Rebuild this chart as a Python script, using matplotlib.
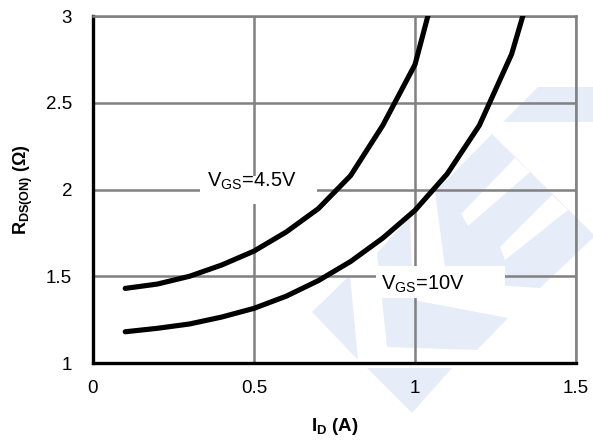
import matplotlib
matplotlib.use("Agg")
import matplotlib.pyplot as plt
from matplotlib.patches import Polygon, Rectangle

plt.rcParams["font.family"] = ["Liberation Sans", "DejaVu Sans"]
plt.rcParams["mathtext.fontset"] = "custom"
plt.rcParams["mathtext.rm"] = "Liberation Sans"
plt.rcParams["mathtext.it"] = "Liberation Sans"
plt.rcParams["mathtext.bf"] = "Liberation Sans:bold"

# ---- data ----
id_45 = [0.1, 0.2, 0.3, 0.4, 0.5, 0.6, 0.7, 0.8, 0.9, 1.0, 1.1]
rds_45 = [1.43, 1.455, 1.50, 1.565, 1.645, 1.755, 1.89, 2.08, 2.37, 2.72, 3.42]

id_10 = [0.1, 0.2, 0.3, 0.4, 0.5, 0.6, 0.7, 0.8, 0.9, 1.0, 1.1, 1.2, 1.3, 1.4]
rds_10 = [1.18, 1.20, 1.225, 1.265, 1.315, 1.385, 1.475, 1.585, 1.72, 1.88,
          2.09, 2.37, 2.78, 3.41]

x_ticks = [0, 0.5, 1, 1.5]
x_labels = ["0", "0.5", "1", "1.5"]
y_ticks = [1, 1.5, 2, 2.5, 3]
y_labels = ["1", "1.5", "2", "2.5", "3"]

GRID = "#808080"
WM = "#e6ecf8"
W, H = 593, 445

fig = plt.figure(figsize=(W / 100, H / 100), dpi=100)
fig.patch.set_facecolor("white")

# faint logo watermark behind the axes (image pixel coords)
logo = [
    [(503, 122), (538, 87), (593, 87), (593, 122)],
    [(492, 134), (595, 236), (540, 288), (447, 282), (435, 192)],
    [(377, 253), (410, 217), (413, 300), (508, 318), (477, 350), (387, 347)],
    [(312, 312), (350, 275), (358, 360)],
    [(367, 368), (452, 368), (412, 413)],
]
cuts = [
    [(515, 158), (530, 172), (468, 226), (461, 214)],
    [(552, 195), (568, 210), (505, 260), (500, 247)],
]
for pts, c in [(p, WM) for p in logo] + [(p, "white") for p in cuts]:
    fig.patches.append(Polygon([(x / W, 1 - y / H) for x, y in pts],
                               closed=True, fc=c, ec="none",
                               transform=fig.transFigure, zorder=0))

ax = fig.add_axes([93 / W, 1 - 363 / H, (576 - 93) / W, (363 - 16) / H])
ax.set_facecolor("none")
ax.set_zorder(1)

ax.set_xlim(0, 1.5)
ax.set_ylim(1, 3)
ax.set_xticks(x_ticks)
ax.set_xticklabels(x_labels)
ax.set_yticks(y_ticks)
ax.set_yticklabels(y_labels)
ax.tick_params(length=0, labelsize=13.5)
ax.tick_params(axis="y", pad=15)
ax.tick_params(axis="x", pad=12)
ax.grid(True, color=GRID, lw=1.8)
ax.set_axisbelow(True)

for side in ["top", "right"]:
    ax.spines[side].set_color(GRID)
    ax.spines[side].set_linewidth(1.8)
for side in ["left", "bottom"]:
    ax.spines[side].set_color("black")
    ax.spines[side].set_linewidth(2.4)

# white boxes behind the curve labels
ax.add_patch(Rectangle((0.332, 1.915), 0.364, 0.165, fc="white", ec="none", zorder=2))
ax.add_patch(Rectangle((0.88, 1.375), 0.40, 0.185, fc="white", ec="none", zorder=2))

ax.plot(id_45, rds_45, color="black", lw=3.7, solid_capstyle="round", zorder=3)
ax.plot(id_10, rds_10, color="black", lw=3.7, solid_capstyle="round", zorder=3)

ax.text(0.354, 2.015, r"$\mathrm{V_{GS}}$=4.5V", fontsize=14.5, zorder=4)
ax.text(0.895, 1.42, r"$\mathrm{V_{GS}}$=10V", fontsize=14.5, zorder=4)

ax.set_xlabel(r"$\mathbf{I_D}$ (A)", fontsize=13.5, fontweight="bold", labelpad=14)
ax.set_ylabel(r"$\mathbf{R_{DS(ON)}}$ ($\mathbf{\Omega}$)", fontsize=13,
              fontweight="bold", labelpad=8)

fig.savefig("out.png", dpi=100, facecolor="white")
